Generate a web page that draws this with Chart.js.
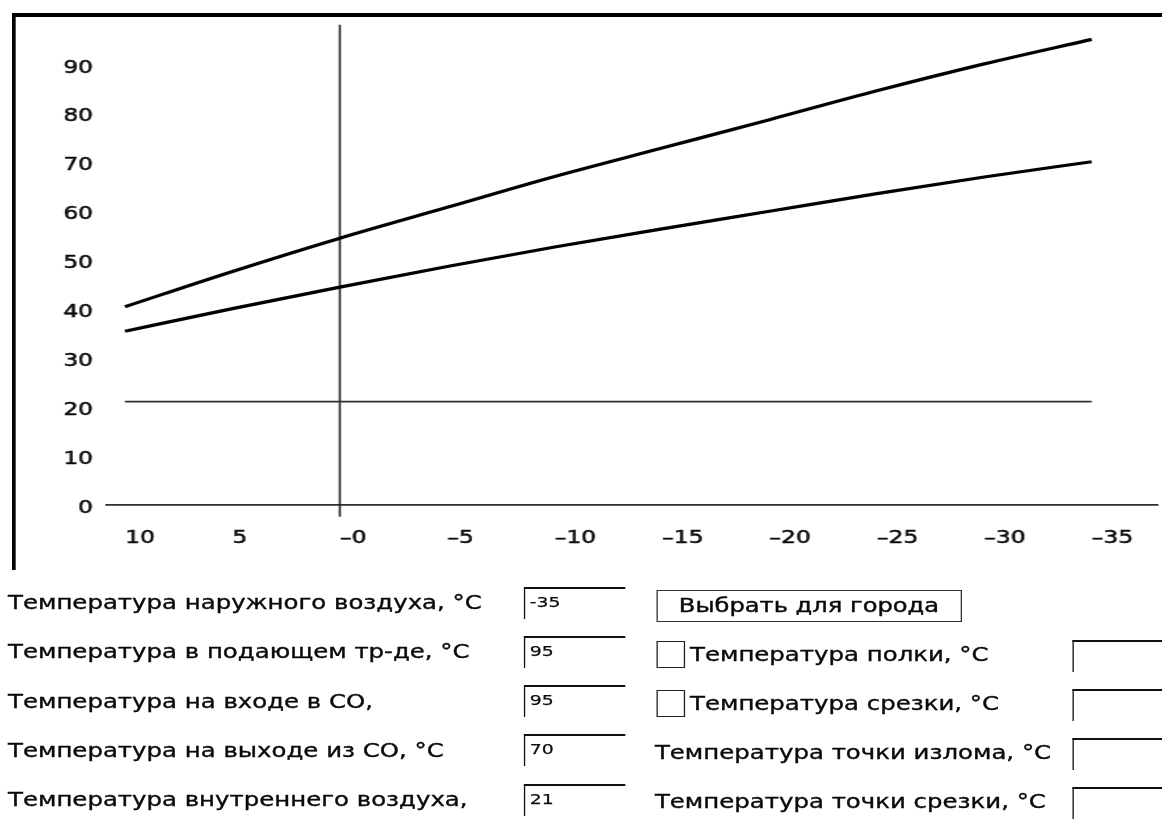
<!DOCTYPE html>
<html>
<head>
<meta charset="utf-8">
<script src="https://cdn.jsdelivr.net/npm/chart.js@4.4.1/dist/chart.umd.min.js"></script>
<style>
html, body { margin:0; padding:0; background:#fff; overflow:hidden; width:1162px; height:819px; }
#stage { position:absolute; left:0; top:0; width:894px; height:819px; transform:scaleX(1.3); transform-origin:0 0;
  font-family:"DejaVu Sans", sans-serif; color:#0a0a0a; }
#chartBox { position:absolute; left:0; top:0; width:894px; height:580px; }
#frame { position:absolute; left:9.3px; top:13px; width:890px; height:553px; border-left:3px solid #000; border-top:4px solid #000; pointer-events:none; }
.lbl { position:absolute; font-size:18.8px; line-height:20px; white-space:nowrap; -webkit-text-stroke:0.35px #0a0a0a; }
.box { position:absolute; box-sizing:border-box; border-top:2px solid #111; border-left:1.5px solid #111; height:32px;
  font-size:14.5px; line-height:16px; padding-left:3.5px; padding-top:4.5px; -webkit-text-stroke:0.25px #111; }
.btn { position:absolute; box-sizing:border-box; border:1.2px solid #333; left:504.6px; top:590px; width:235.4px; height:32px;
  font-size:18.6px; line-height:29px; text-align:center; white-space:nowrap; -webkit-text-stroke:0.4px #0a0a0a; }
.chk { position:absolute; box-sizing:border-box; border:1.2px solid #222; left:505.4px; width:21.5px; height:27px; }
</style>
</head>
<body>
<div id="stage">
  <div id="chartBox"><canvas id="c"></canvas></div>
  <div id="frame"></div>

  <div class="lbl" style="left:6.2px; top:593px;">Температура наружного воздуха, °C</div>
  <div class="lbl" style="left:6.2px; top:642px;">Температура в подающем тр-де, °C</div>
  <div class="lbl" style="left:6.2px; top:692px;">Температура на входе в СО,</div>
  <div class="lbl" style="left:6.2px; top:741px;">Температура на выходе из СО, °C</div>
  <div class="lbl" style="left:6.2px; top:790px;">Температура внутреннего воздуха,</div>

  <div class="box" style="left:403px; top:587px; width:77.7px;">-35</div>
  <div class="box" style="left:403px; top:636px; width:77.7px;">95</div>
  <div class="box" style="left:403px; top:685px; width:77.7px;">95</div>
  <div class="box" style="left:403px; top:734px; width:77.7px;">70</div>
  <div class="box" style="left:403px; top:784px; width:77.7px;">21</div>

  <div class="btn">Выбрать для города</div>

  <div class="chk" style="top:641px;"></div>
  <div class="lbl" style="left:530.8px; top:645px;">Температура полки, °C</div>
  <div class="chk" style="top:690px;"></div>
  <div class="lbl" style="left:530.8px; top:694px;">Температура срезки, °C</div>
  <div class="lbl" style="left:503.8px; top:743px;">Температура точки излома, °C</div>
  <div class="lbl" style="left:503.8px; top:792px;">Температура точки срезки, °C</div>

  <div class="box" style="left:825.4px; top:640px; width:80px;"></div>
  <div class="box" style="left:825.4px; top:689px; width:80px;"></div>
  <div class="box" style="left:825.4px; top:738px; width:80px;"></div>
  <div class="box" style="left:825.4px; top:787px; width:80px;"></div>
</div>

<script>
// ---- data ----
const tempOutside = [10, 5, 0, -5, -10, -15, -20, -25, -30, -35];           // наружная температура, °C
const supplyTemp  = [40.4, 47.6, 54.4, 60.7, 67.0, 72.8, 78.6, 84.5, 90.0, 95]; // подающий трубопровод
const returnTemp  = [35.4, 40.0, 44.4, 48.6, 52.6, 56.3, 59.9, 63.5, 66.9, 70]; // обратный (выход из СО)
const innerAirTemp = 21;
const innerLineRange = [10, -35];
const zeroAxisRange = [-2.5, 98];
const xTickLabels = ['10', '5', '–0', '–5', '–10', '–15', '–20', '–25', '–30', '–35'];
const yTickValues = [0, 10, 20, 30, 40, 50, 60, 70, 80, 90];

const S = 1.3;            // horizontal stretch of the picture
const FONT = { family: 'DejaVu Sans', size: 18 };

const toPts = (xs, ys) => xs.map((x, i) => ({ x: x, y: ys[i] }));

new Chart(document.getElementById('c'), {
  type: 'line',
  data: {
    datasets: [
      { label: 'Подача', data: toPts(tempOutside, supplyTemp), borderColor: '#000', borderWidth: 3.2,
        pointRadius: 0, cubicInterpolationMode: 'monotone' },
      { label: 'Обратка', data: toPts(tempOutside, returnTemp), borderColor: '#000', borderWidth: 3.2,
        pointRadius: 0, cubicInterpolationMode: 'monotone' },
      { label: 'Внутренний воздух', data: innerLineRange.map(t => ({ x: t, y: innerAirTemp })),
        borderColor: '#2e2e2e', borderWidth: 1.7, pointRadius: 0 },
      { label: 'Ось 0', data: zeroAxisRange.map(v => ({ x: 0, y: v })),
        borderColor: '#222', borderWidth: 1.6, pointRadius: 0, clip: false }
    ]
  },
  options: {
    responsive: true,
    maintainAspectRatio: false,
    animation: false,
    events: [],
    layout: { padding: { top: 14.9, right: 894 - 1158 / S, left: 0, bottom: 0 } },
    plugins: { legend: { display: false }, tooltip: { enabled: false } },
    scales: {
      x: {
        type: 'linear',
        reverse: true,
        min: -38.09,
        max: 10.84,
        grid: { display: false, drawTicks: false },
        border: { display: true, color: '#2e2e2e', width: 1.7 },
        afterBuildTicks: s => { s.ticks = tempOutside.map(v => ({ value: v })); },
        afterFit: s => { s.height = 580 - 504.5; s.paddingLeft = 0; s.paddingRight = 0; },
        ticks: {
          align: 'start',
          padding: 23,
          color: '#0a0a0a',
          textStrokeColor: '#0a0a0a',
          textStrokeWidth: 0.5,
          font: FONT,
          maxRotation: 0,
          autoSkip: false,
          callback: (v, i) => xTickLabels[i]
        }
      },
      y: {
        type: 'linear',
        min: 0,
        max: 100,
        grid: { display: false, drawTicks: false },
        border: { display: false },
        afterBuildTicks: s => { s.ticks = yTickValues.map(v => ({ value: v })); },
        afterFit: s => { s.width = 107 / S; s.paddingTop = 0; s.paddingBottom = 0; },
        ticks: {
          padding: 14 / S,
          color: '#0a0a0a',
          textStrokeColor: '#0a0a0a',
          textStrokeWidth: 0.5,
          font: { family: 'DejaVu Sans', size: 18, lineHeight: '8px' },
          // empty first line nudges the number a few px below its value, as in the picture
          callback: v => ['', String(v)]
        }
      }
    }
  }
});
</script>
</body>
</html>
